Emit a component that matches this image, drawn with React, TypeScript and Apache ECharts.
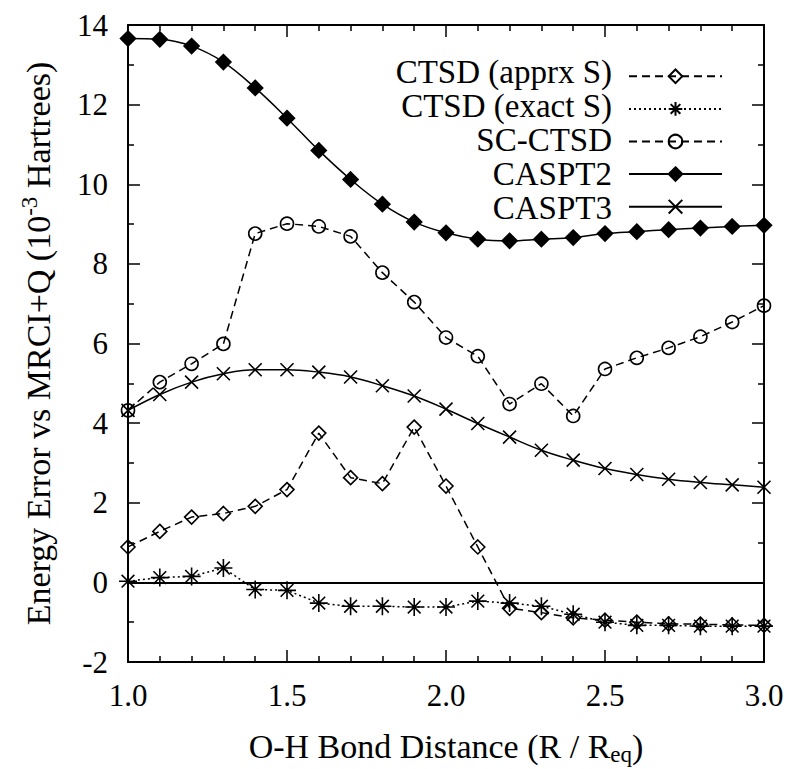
import React, { useEffect, useRef } from "react";
import * as echarts from "echarts";

const FONT = "Liberation Serif";

const xValues = [1.0, 1.1, 1.2, 1.3, 1.4, 1.5, 1.6, 1.7, 1.8, 1.9, 2.0, 2.1, 2.2, 2.3, 2.4, 2.5, 2.6, 2.7, 2.8, 2.9, 3.0];

const ctsdApprx = [0.89, 1.28, 1.64, 1.73, 1.91, 2.33, 3.75, 2.63, 2.48, 3.9, 2.42, 0.89, -0.65, -0.76, -0.89, -0.95, -1.0, -1.04, -1.05, -1.07, -1.08];
const ctsdExact = [0.03, 0.12, 0.15, 0.36, -0.18, -0.2, -0.52, -0.6, -0.6, -0.62, -0.62, -0.47, -0.52, -0.6, -0.8, -1.0, -1.08, -1.08, -1.1, -1.1, -1.1];
const scCtsd = [4.32, 5.03, 5.49, 5.99, 8.76, 9.01, 8.94, 8.69, 7.78, 7.04, 6.15, 5.68, 4.48, 4.99, 4.18, 5.36, 5.64, 5.89, 6.17, 6.54, 6.95];
const caspt2 = [13.66, 13.64, 13.47, 13.07, 12.42, 11.66, 10.85, 10.12, 9.5, 9.05, 8.78, 8.62, 8.58, 8.62, 8.66, 8.76, 8.81, 8.86, 8.9, 8.94, 8.97];
const caspt3 = [4.32, 4.72, 5.03, 5.24, 5.34, 5.34, 5.28, 5.16, 4.94, 4.68, 4.35, 3.99, 3.65, 3.32, 3.07, 2.86, 2.71, 2.59, 2.51, 2.45, 2.39];

const seriesNames = ["CTSD (apprx S)", "CTSD (exact S)", "SC-CTSD", "CASPT2", "CASPT3"];
const xTickLabels = [1.0, 1.5, 2.0, 2.5, 3.0];
const yTickLabels = [-2, 0, 2, 4, 6, 8, 10, 12, 14];

const ASTERISK = "path://M0,-1L0,1M-1,0L1,0M-0.707,-0.707L0.707,0.707M-0.707,0.707L0.707,-0.707";
const CROSS = "path://M-1,-1L1,1M-1,1L1,-1";

const pair = (ys: number[]) => xValues.map((x, i) => [x, ys[i]]);

const LEG_TOP = 63.5;
const LEG_ROW = 34;
const LEG_ITEM_H = 17;

function txt(text: string, x: number, y: number, align: string, size: number, extra?: any) {
  const ex = extra || {};
  const { styleExtra, ...elExtra } = ex;
  return {
    type: "text",
    x,
    y,
    silent: true,
    z: 100,
    ...elExtra,
    style: {
      text,
      fontFamily: FONT,
      fontSize: size,
      fill: "#000",
      align,
      textAlign: align,
      verticalAlign: "middle",
      textVerticalAlign: "middle",
      ...(styleExtra || {}),
    },
  };
}

export default function App() {
  const ref = useRef<HTMLDivElement>(null);
  useEffect(() => {
    document.body.style.margin = "0";
    if (!ref.current) return;
    const chart = echarts.init(ref.current, null, { renderer: "svg" });
    const axisCommon = {
      axisLine: { show: true, onZero: false, lineStyle: { color: "#000", width: 2 } },
      axisTick: { show: true, inside: true, length: 12, lineStyle: { color: "#000", width: 1.5 } },
      minorTick: { show: true, length: 6, lineStyle: { color: "#000", width: 1.5 } },
      splitLine: { show: false },
    };
    const lineBase = (name: string, data: number[][], type: any, symbol: string, size: any, fill: string, smooth: any) => ({
      name,
      type: "line",
      data,
      smooth,
      symbol,
      symbolSize: size,
      lineStyle: { color: "#000", width: 1.5, type },
      itemStyle: { color: fill, borderColor: "#000", borderWidth: 1.6 },
      emphasis: { disabled: true },
    });
    const option: any = {
      animation: false,
      backgroundColor: "#fff",
      grid: { left: 128, right: 26, top: 25, bottom: 107 },
      legend: {
        orient: "vertical",
        right: 62,
        top: LEG_TOP,
        align: "right",
        itemWidth: 93,
        itemHeight: LEG_ITEM_H,
        itemGap: LEG_ROW - LEG_ITEM_H,
        selectedMode: false,
        data: seriesNames,
        formatter: () => "",
        textStyle: { fontSize: 1, lineHeight: 1, color: "#000" },
      },
      xAxis: [
        {
          type: "value",
          min: 1,
          max: 3,
          interval: 0.5,
          minorTick: { ...axisCommon.minorTick, splitNumber: 5 },
          axisLine: axisCommon.axisLine,
          axisTick: axisCommon.axisTick,
          splitLine: axisCommon.splitLine,
          axisLabel: { show: false },
        },
        {
          type: "value",
          position: "top",
          min: 1,
          max: 3,
          interval: 0.5,
          minorTick: { ...axisCommon.minorTick, splitNumber: 5 },
          axisLine: axisCommon.axisLine,
          axisTick: axisCommon.axisTick,
          splitLine: axisCommon.splitLine,
          axisLabel: { show: false },
        },
      ],
      yAxis: [
        {
          type: "value",
          min: -2,
          max: 14,
          interval: 2,
          minorTick: { ...axisCommon.minorTick, splitNumber: 2 },
          axisLine: axisCommon.axisLine,
          axisTick: axisCommon.axisTick,
          splitLine: axisCommon.splitLine,
          axisLabel: { show: false },
        },
        {
          type: "value",
          position: "right",
          min: -2,
          max: 14,
          interval: 2,
          minorTick: { ...axisCommon.minorTick, splitNumber: 2 },
          axisLine: axisCommon.axisLine,
          axisTick: axisCommon.axisTick,
          splitLine: axisCommon.splitLine,
          axisLabel: { show: false },
        },
      ],
      series: [
        {
          ...lineBase(seriesNames[0], pair(ctsdApprx), [8, 5], "diamond", 14, "rgba(0,0,0,0)", false),
          markLine: {
            silent: true,
            symbol: "none",
            label: { show: false },
            lineStyle: { color: "#000", width: 2, type: "solid" },
            data: [{ yAxis: 0 }],
          },
        },
        lineBase(seriesNames[1], pair(ctsdExact), [2, 3], ASTERISK, 18, "rgba(0,0,0,0)", false),
        lineBase(seriesNames[2], pair(scCtsd), [8, 5], "circle", 13, "rgba(0,0,0,0)", false),
        lineBase(seriesNames[3], pair(caspt2), "solid", "diamond", 15, "#000", 0.4),
        lineBase(seriesNames[4], pair(caspt3), "solid", CROSS, 13, "rgba(0,0,0,0)", 0.4),
      ],
    };
    chart.setOption(option);

    const px = (v: number) => chart.convertToPixel({ xAxisIndex: 0 } as any, v) as unknown as number;
    const py = (v: number) => chart.convertToPixel({ yAxisIndex: 0 } as any, v) as unknown as number;
    const x0 = px(1);
    const x1 = px(3);
    const yTop = py(14);
    const yBot = py(-2);

    const texts: any[] = [];
    xTickLabels.forEach((v) => texts.push(txt(v.toFixed(1), px(v), yBot + 33, "center", 31)));
    yTickLabels.forEach((v) => texts.push(txt(String(v), x0 - 20, py(v), "right", 31)));
    seriesNames.forEach((n, i) =>
      texts.push(txt(n, 612, LEG_TOP + LEG_ITEM_H / 2 + i * LEG_ROW, "right", 33))
    );
    texts.push(
      txt("{n|O-H Bond Distance (R / R}{sub|eq}{n|)}", (x0 + x1) / 2, yBot + 84, "center", 34, {
        styleExtra: {
          rich: {
            n: { fontFamily: FONT, fontSize: 34, fill: "#000", lineHeight: 40 },
            sub: { fontFamily: FONT, fontSize: 23, fill: "#000", verticalAlign: "bottom", lineHeight: 40 },
          },
        },
      })
    );
    texts.push(
      txt("{n|Energy Error vs MRCI+Q (10}{sup|-3}{n| Hartrees)}", 38, (yTop + yBot) / 2, "center", 34, {
        rotation: Math.PI / 2,
        styleExtra: {
          rich: {
            n: { fontFamily: FONT, fontSize: 34, fill: "#000", lineHeight: 40 },
            sup: { fontFamily: FONT, fontSize: 23, fill: "#000", verticalAlign: "top", lineHeight: 40 },
          },
        },
      })
    );
    chart.setOption({ graphic: texts });
    return () => chart.dispose();
  }, []);
  return <div ref={ref} style={{ width: 790, height: 769 }} />;
}
